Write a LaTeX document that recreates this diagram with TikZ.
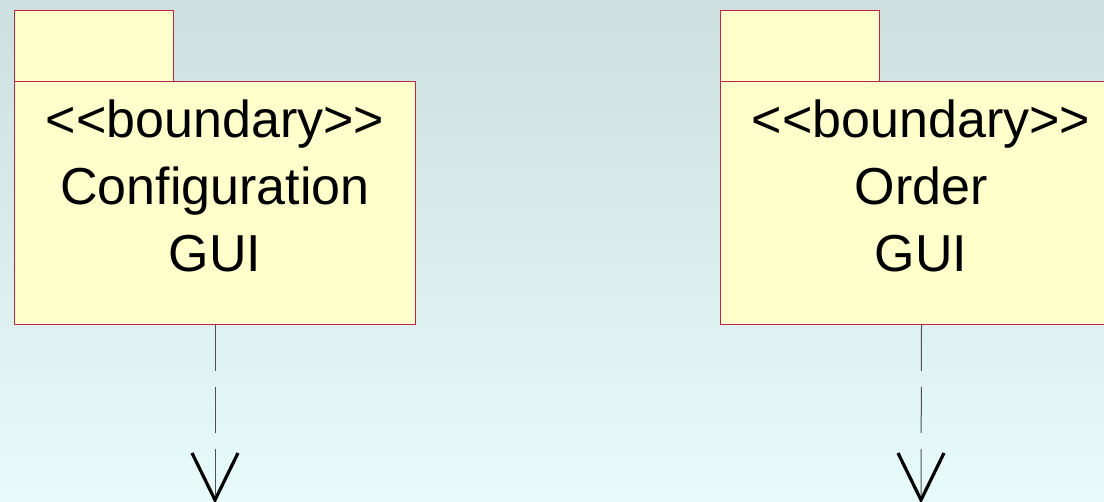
\documentclass[tikz,border=0pt]{standalone}
\usepackage{fontspec}
\setmainfont{Liberation Sans}
\definecolor{bgtop}{RGB}{205,223,223}
\definecolor{bgbot}{RGB}{230,251,250}
\definecolor{pkgfill}{RGB}{255,255,204}
\definecolor{pkgline}{RGB}{190,35,75}
\definecolor{depline}{RGB}{80,80,80}
\tikzset{
  pkgbox/.style={draw=pkgline, fill=pkgfill, line width=1pt, inner sep=0pt},
  pkgtext/.style={anchor=base, inner sep=0pt, font=\fontsize{52}{67}\selectfont},
  depend/.style={draw=depline, line width=1pt, dash pattern=on 46pt off 16pt},
  vhead/.style={draw=black, line width=3.2pt, line join=miter},
}
\begin{document}
\begin{tikzpicture}[x=1pt,y=-1pt]
\useasboundingbox (0,0) rectangle (1104,502);
\shade[top color=bgtop, bottom color=bgbot] (0,0) rectangle (1104,502);
\begin{scope}
\clip (0,0) rectangle (1104,502);
% left package
\node[pkgbox, minimum width=159pt, minimum height=71pt, anchor=north west] (tabA) at (14,10) {};
\node[pkgbox, minimum width=401pt, minimum height=243pt, anchor=north west] (pkgA) at (14,81) {};
\node[pkgtext] (a1) at (215,138) {<{}<boundary>{}>};
\node[pkgtext] (a2) at (215,205) {Configuration};
\node[pkgtext] (a3) at (215,272) {GUI};
\coordinate (endA) at (215,500);
\draw[depend] (pkgA.south) -- (endA);
\draw[vhead] ([shift={(-23,-47)}]endA) -- (endA) -- ([shift={(23,-47)}]endA);
% right package
\node[pkgbox, minimum width=159pt, minimum height=71pt, anchor=north west] (tabB) at (720,10) {};
\node[pkgbox, minimum width=402pt, minimum height=243pt, anchor=north west] (pkgB) at (720,81) {};
\node[pkgtext] (b1) at (921,138) {<{}<boundary>{}>};
\node[pkgtext] (b2) at (921,205) {Order};
\node[pkgtext] (b3) at (921,272) {GUI};
\coordinate (endB) at (921,500);
\draw[depend] (pkgB.south) -- (endB);
\draw[vhead] ([shift={(-23,-47)}]endB) -- (endB) -- ([shift={(23,-47)}]endB);
\end{scope}
\end{tikzpicture}
\end{document}
